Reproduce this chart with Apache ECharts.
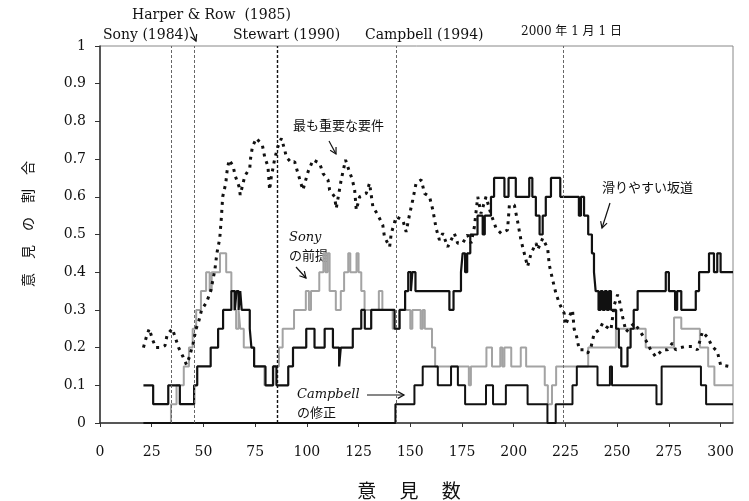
<!DOCTYPE html>
<html>
<head>
<meta charset="utf-8">
<script src="https://cdn.jsdelivr.net/npm/echarts@6/dist/echarts.min.js"></script>
<style>
html,body{margin:0;padding:0;background:#fff;}
#chart{width:749px;height:501px;}
</style>
</head>
<body>
<div id="chart"></div>
<script>
// ---- data (x = 意見数, y = 意見の割合) ----
const importantReq = [[21,0.2],[22.5,0.23],[23.8,0.25],[25.5,0.22],[27,0.2],[29.5,0.2],[31.4,0.205],[32.5,0.235],[35,0.25],[36.5,0.225],[38,0.2],[40.2,0.175],[41.8,0.155],[43.2,0.175],[45,0.21],[46.3,0.247],[47.9,0.273],[49.1,0.3],[51.5,0.32],[53.5,0.35],[55.5,0.405],[56.5,0.45],[57.9,0.49],[58.7,0.547],[59.3,0.6],[60.8,0.636],[61.4,0.667],[62.4,0.698],[64.3,0.682],[65.4,0.655],[67.2,0.627],[67.8,0.605],[70,0.655],[72.4,0.676],[72.8,0.702],[73.7,0.733],[75.6,0.755],[78.5,0.737],[79.6,0.706],[81.2,0.68],[82,0.618],[82.8,0.653],[84.5,0.702],[86,0.733],[87.7,0.755],[89.3,0.724],[90.1,0.705],[92.5,0.69],[94.1,0.693],[95.7,0.662],[98.1,0.618],[100.6,0.667],[103,0.698],[106.2,0.689],[107.8,0.662],[110.2,0.645],[111,0.618],[113.4,0.6],[114.2,0.569],[116.6,0.645],[118.7,0.698],[120.3,0.671],[122,0.645],[123.1,0.618],[123.9,0.565],[125.5,0.6],[128.7,0.609],[130.3,0.636],[131.9,0.574],[134.3,0.552],[136.7,0.525],[137.5,0.494],[140,0.467],[140.8,0.503],[143.2,0.547],[146.4,0.538],[148,0.507],[149.6,0.552],[151.2,0.592],[152.8,0.636],[155.3,0.645],[156.9,0.609],[159.3,0.6],[160.9,0.565],[162.5,0.516],[164.1,0.485],[165.7,0.503],[168.1,0.467],[171.3,0.503],[172.9,0.477],[175.3,0.477],[177.7,0.499],[179.4,0.477],[181,0.521],[182.6,0.6],[184.2,0.556],[186.6,0.6],[188.9,0.556],[191.5,0.516],[193.9,0.503],[197,0.512],[197.9,0.578],[200.3,0.578],[201.9,0.534],[203.5,0.485],[205.1,0.45],[206.7,0.415],[208.4,0.45],[210.8,0.477],[211.6,0.46],[214,0.49],[216.4,0.463],[217.2,0.419],[218.8,0.38],[220.4,0.344],[222,0.318],[224.4,0.291],[225,0.26],[226.8,0.282],[228.4,0.3],[229.2,0.25],[230.4,0.229],[231.7,0.194],[234,0.194],[235.7,0.185],[237.3,0.2],[238.9,0.238],[241.3,0.247],[243,0.265],[244.6,0.256],[247,0.247],[248.6,0.313],[250.2,0.34],[251,0.327],[252.6,0.282],[254.3,0.242],[256.7,0.256],[258.3,0.265],[260.6,0.247],[263.8,0.22],[266.2,0.194],[268.6,0.176],[271.9,0.194],[274.3,0.194],[276.7,0.212],[278.3,0.194],[280.7,0.2],[283.1,0.203],[286.3,0.203],[288.8,0.194],[291.2,0.242],[293.6,0.228],[296,0.203],[298.4,0.19],[300,0.154],[304,0.15]];

const slipperySlope = [[21,0.1],[25.7,0.05],[33,0.1],[38.6,0.05],[45.5,0.1],[47,0.15],[53.5,0.2],[57.1,0.25],[59.5,0.3],[63.5,0.35],[65.2,0.3],[66,0.35],[67,0.3],[67.8,0.35],[68.5,0.3],[72.4,0.25],[73.2,0.2],[74.5,0.15],[80,0.1],[83.7,0.15],[85.3,0.1],[91,0.15],[93.3,0.2],[99.7,0.25],[103.7,0.2],[108.6,0.25],[112.6,0.2],[115.6,0.15],[116.4,0.2],[122.2,0.25],[126.3,0.3],[128,0.25],[131.1,0.3],[142.4,0.25],[144.8,0.3],[147.5,0.35],[149,0.4],[150.3,0.35],[151,0.4],[152.5,0.35],[168.9,0.3],[170.9,0.35],[174.5,0.4],[175.3,0.45],[176.5,0.4],[177.5,0.45],[179,0.5],[182.5,0.55],[185,0.5],[186,0.55],[189,0.6],[190.5,0.65],[195.5,0.6],[197.5,0.65],[201,0.6],[207.5,0.65],[209,0.6],[210.7,0.55],[212.5,0.5],[214,0.55],[215.5,0.6],[218,0.65],[222.5,0.6],[231.5,0.55],[232.5,0.6],[234,0.55],[236,0.5],[237.8,0.45],[238.8,0.4],[239.6,0.35],[241,0.3],[242,0.35],[243,0.3],[244,0.35],[245,0.3],[246,0.35],[247,0.3],[249.5,0.25],[250.8,0.2],[252,0.15],[255,0.2],[256.5,0.25],[258,0.3],[259.9,0.35],[273.5,0.4],[275,0.35],[278,0.3],[279,0.35],[281,0.3],[288,0.35],[289.6,0.4],[294.4,0.45],[296.8,0.4],[298.4,0.45],[300,0.4],[306,0.4]];

const sonyPremise = [[33,0],[34.3,0.05],[37,0.1],[40.5,0.15],[43,0.2],[44.8,0.25],[46.5,0.3],[48.8,0.35],[51.3,0.4],[53,0.35],[54,0.4],[58,0.45],[61,0.4],[63.5,0.35],[64.8,0.3],[65.8,0.25],[67,0.3],[67.8,0.25],[69.5,0.2],[74.5,0.15],[79.5,0.1],[83.5,0.15],[86.5,0.2],[88.3,0.25],[93.8,0.3],[99.5,0.35],[101,0.3],[102,0.35],[106,0.4],[108,0.45],[109,0.4],[110,0.45],[111,0.35],[114,0.3],[116.4,0.35],[118,0.4],[120,0.45],[121,0.4],[124,0.45],[125,0.4],[126.3,0.35],[127.9,0.3],[134.8,0.35],[136.5,0.3],[141.5,0.25],[144.8,0.3],[150,0.25],[151,0.3],[155,0.25],[156,0.3],[157,0.25],[160.5,0.2],[162,0.15],[178.3,0.1],[179.3,0.15],[186.8,0.2],[189.5,0.15],[193.5,0.2],[194.5,0.15],[195.5,0.2],[198.8,0.15],[203.4,0.2],[206,0.15],[215,0.1],[216.5,0.05],[218.5,0.1],[220.5,0.15],[236,0.2],[249.4,0.25],[263.8,0.2],[277.5,0.28],[281,0.25],[290,0.2],[294,0.15],[297,0.1],[306,0.1]];

const campbellMod = [[21,0],[142.8,0.05],[152,0.1],[156,0.15],[163.3,0.1],[169.7,0.15],[173,0.1],[176.5,0.05],[186.6,0.1],[190,0.05],[196.2,0.1],[206.7,0.05],[216.3,0],[220.3,0.05],[228.4,0.1],[230.5,0.15],[240.5,0.1],[246.5,0.15],[247.5,0.1],[269,0.05],[271.5,0.15],[290.5,0.1],[293,0.05],[306,0.05]];

// reference events (vertical dashed lines)
const eventX = [34.5, 45.5, 85.5, 143, 224];
const eventStrong = [false, false, true, false, false];

const xMin = 0, xMax = 306, xStep = 25;
const yMin = 0, yMax = 1, yStep = 0.1;

// ---- chart ----
const chart = echarts.init(document.getElementById('chart'), null, {renderer: 'canvas'});
const serif = '"DejaVu Serif", "Liberation Serif", serif';
const jp = '"Noto Sans CJK JP", sans-serif';

function arrow(x1, y1, x2, y2) {
  const a = Math.atan2(y2 - y1, x2 - x1), L = 7, w = 0.5;
  return [
    {type: 'line', shape: {x1, y1, x2, y2}, style: {stroke: '#111', lineWidth: 1.2}},
    {type: 'polyline', shape: {points: [
      [x2 - L * Math.cos(a - w), y2 - L * Math.sin(a - w)], [x2, y2],
      [x2 - L * Math.cos(a + w), y2 - L * Math.sin(a + w)]]},
      style: {stroke: '#111', lineWidth: 1.2, fill: null}}
  ];
}
function txt(x, y, text, font, align) {
  return {type: 'text', x, y, style: {text, font, fill: '#111', textAlign: align || 'left', textVerticalAlign: 'middle'}};
}

const graphics = [
  txt(132, 15, 'Harper & Row  (1985)', '14px ' + serif),
  txt(103, 35, 'Sony (1984)', '14px ' + serif),
  txt(233, 35, 'Stewart (1990)', '14px ' + serif),
  txt(365, 35, 'Campbell (1994)', '14px ' + serif),
  txt(521, 32, '2000 年 1 月 1 日', '12px ' + serif + ', ' + jp),
  ...arrow(190, 27, 196, 41),
  txt(293, 125, '最も重要な要件', '13px ' + jp),
  ...arrow(329, 141, 336, 154),
  txt(289, 238, 'Sony', 'italic 13px ' + serif),
  txt(289, 255, 'の前提', '13px ' + jp),
  ...arrow(296, 267, 306, 278),
  txt(297, 395, 'Campbell', 'italic 13px ' + serif),
  txt(297, 412, 'の修正', '13px ' + jp),
  ...arrow(367, 395, 404, 395),
  txt(602, 187, '滑りやすい坂道', '13px ' + jp),
  ...arrow(610, 203, 602, 228),
  {type: 'text', x: 28, y: 224, rotation: Math.PI / 2,
   style: {text: '意　見　の　割　合', font: '14px ' + jp, fill: '#111', textAlign: 'center', textVerticalAlign: 'middle'}},
  txt(409, 491, '意　 見　 数', '19px ' + jp, 'center')
];

const markLines = eventX.map((x, i) => ({
  xAxis: x,
  lineStyle: eventStrong[i]
    ? {color: '#111', width: 1.4, type: [3, 2]}
    : {color: '#666', width: 1, type: [3, 2]}
}));

chart.setOption({
  animation: false,
  backgroundColor: '#fff',
  grid: {left: 100, right: 16, top: 46, bottom: 78, show: true, borderColor: '#888', borderWidth: 1},
  xAxis: {
    type: 'value', min: xMin, max: xMax, interval: xStep,
    axisLine: {show: true, lineStyle: {color: '#333', width: 1.5}},
    axisTick: {show: true, length: 4, lineStyle: {color: '#333'}},
    axisLabel: {margin: 22, color: '#111', fontFamily: serif, fontSize: 14, showMaxLabel: false,
      formatter: v => (v % 25 === 0 ? String(v) : '')},
    splitLine: {show: false}
  },
  yAxis: {
    type: 'value', min: yMin, max: yMax, interval: yStep,
    axisLine: {show: true, lineStyle: {color: '#333', width: 1.5}},
    axisTick: {show: true, length: 5, lineStyle: {color: '#333'}},
    axisLabel: {margin: 14, color: '#111', fontFamily: serif, fontSize: 14,
      formatter: v => { const r = Math.round(v * 10) / 10; return (r === 0 || r === 1) ? String(r) : r.toFixed(1); }},
    splitLine: {show: false}
  },
  series: [
    {
      name: 'Sonyの前提', type: 'line', step: 'end', data: sonyPremise, symbol: 'none', z: 2,
      lineStyle: {color: '#a3a3a3', width: 2}
    },
    {
      name: 'Campbellの修正', type: 'line', step: 'end', data: campbellMod, symbol: 'none', z: 3,
      lineStyle: {color: '#111', width: 2},
      markLine: {silent: true, symbol: ['none', 'none'], label: {show: false}, data: markLines}
    },
    {
      name: '滑りやすい坂道', type: 'line', step: 'end', data: slipperySlope, symbol: 'none', z: 4,
      lineStyle: {color: '#111', width: 2.2}
    },
    {
      name: '最も重要な要件', type: 'line', data: importantReq, symbol: 'none', z: 5,
      lineStyle: {color: '#111', width: 3, type: [3, 5]}
    }
  ],
  graphic: graphics
});
</script>
</body>
</html>
